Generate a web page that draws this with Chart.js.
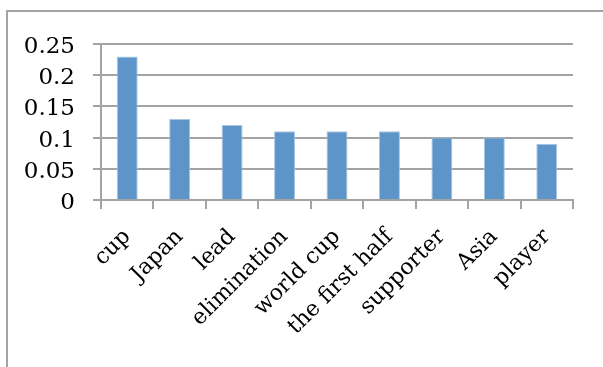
<!DOCTYPE html>
<html>
<head>
<meta charset="utf-8">
<script src="https://cdn.jsdelivr.net/npm/chart.js@4"></script>
<style>
  html, body { margin: 0; padding: 0; background: #fff; }
  #wrap { width: 603px; height: 367px; position: relative; }
</style>
</head>
<body>
<div id="wrap"><canvas id="demo-chart" width="603" height="367"></canvas></div>
<script>
let categories = ['cup', 'Japan', 'lead', 'elimination', 'world cup', 'the first half', 'supporter', 'Asia', 'player']
let scores = [0.23, 0.13, 0.12, 0.11, 0.11, 0.11, 0.10, 0.10, 0.09]
let yTicks = [0, 0.05, 0.1, 0.15, 0.2, 0.25]

// frame around the whole chart, Excel style
const frame = {
  id: 'frame',
  beforeDraw (chart) {
    const c = chart.ctx
    c.save()
    c.strokeStyle = '#a3a3a3'
    c.lineWidth = 2
    c.strokeRect(7, 11, 800, 600)
    c.restore()
  }
}

const ctx = document.getElementById('demo-chart')
let myChart = new Chart(ctx, {
  type: 'bar',
  data: {
    labels: categories,
    datasets: [{
      label: 'score',
      data: scores,
      backgroundColor: '#5d95c9',
      borderColor: '#a8c5e4',
      borderWidth: 1,
      barPercentage: 0.4,
      categoryPercentage: 1
    }]
  },
  options: {
    responsive: false,
    animation: false,
    layout: { padding: { top: 44, right: 30, left: 0, bottom: 0 } },
    plugins: {
      legend: { display: false },
      tooltip: { enabled: false }
    },
    scales: {
      x: {
        offset: true,
        grid: { offset: true, drawOnChartArea: false, color: '#a3a3a3', lineWidth: 2, tickLength: 9 },
        border: { color: '#a3a3a3', width: 2 },
        ticks: {
          color: '#000',
          font: { family: "'DejaVu Serif', serif", size: 22 },
          minRotation: 45, maxRotation: 45, padding: 15, labelOffset: 0
        },
        afterFit: s => { s.height = 167 }
      },
      y: {
        min: 0,
        max: 0.25,
        afterBuildTicks: s => { s.ticks = yTicks.map(v => ({ value: v })) },
        grid: { color: '#a3a3a3', lineWidth: 2, tickLength: 8 },
        border: { color: '#a3a3a3', width: 2 },
        ticks: {
          color: '#000',
          font: { family: "'DejaVu Serif', serif", size: 23 },
          padding: 18, labelOffset: 3,
          callback: v => String(+v.toFixed(2))
        },
        afterFit: s => { s.width = 101 }
      }
    }
  },
  plugins: [frame]
})
</script>
</body>
</html>
